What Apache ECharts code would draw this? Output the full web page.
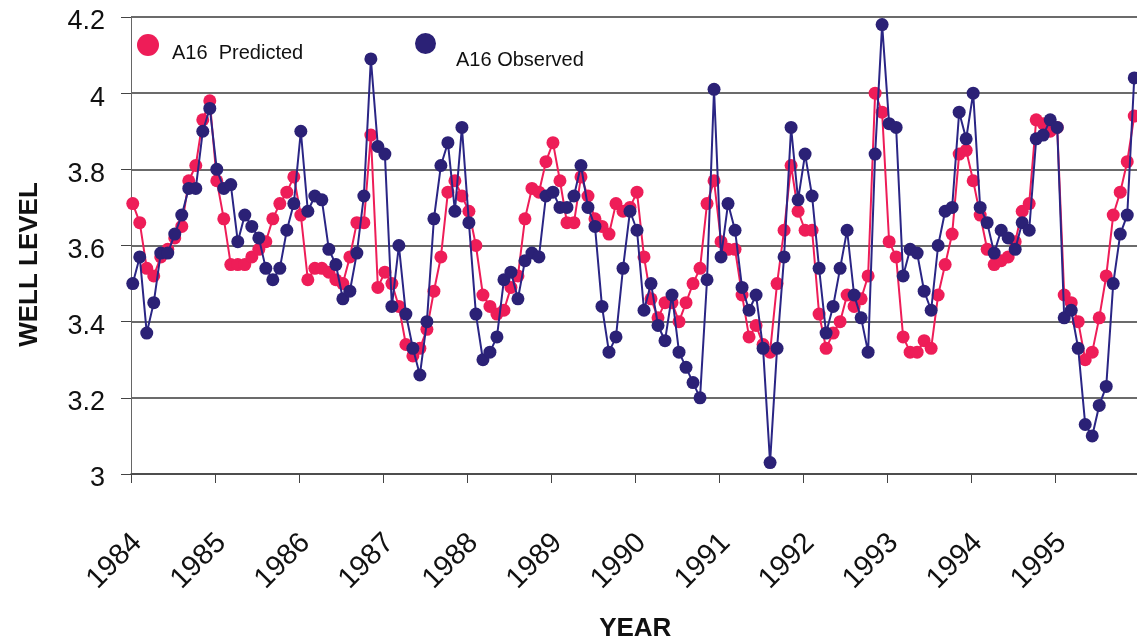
<!DOCTYPE html>
<html>
<head>
<meta charset="utf-8">
<title>A16 Well Level</title>
<script src="https://cdn.jsdelivr.net/npm/echarts@6/dist/echarts.min.js"></script>
<style>
  html, body { margin: 0; padding: 0; background: #ffffff; }
  #chart { width: 1137px; height: 643px; }
</style>
</head>
<body>
<div id="chart"></div>
<script>
// Monthly series, January 1984 through December 1995
const startYear = 1984;
const yearTicks = [1984, 1985, 1986, 1987, 1988, 1989, 1990, 1991, 1992, 1993, 1994, 1995];
const levelTicks = [3, 3.2, 3.4, 3.6, 3.8, 4, 4.2];
const seriesNames = ['A16  Predicted', 'A16 Observed'];

const predicted = [
  3.71, 3.66, 3.54, 3.52, 3.57, 3.59, 3.62, 3.65, 3.77, 3.81, 3.93, 3.98,
  3.77, 3.67, 3.55, 3.55, 3.55, 3.57, 3.59, 3.61, 3.67, 3.71, 3.74, 3.78,
  3.68, 3.51, 3.54, 3.54, 3.53, 3.51, 3.50, 3.57, 3.66, 3.66, 3.89, 3.49,
  3.53, 3.50, 3.44, 3.34, 3.31, 3.33, 3.38, 3.48, 3.57, 3.74, 3.77, 3.73,
  3.69, 3.60, 3.47, 3.44, 3.42, 3.43, 3.49, 3.52, 3.67, 3.75, 3.74, 3.82,
  3.87, 3.77, 3.66, 3.66, 3.78, 3.73, 3.67, 3.65, 3.63, 3.71, 3.69, 3.70,
  3.74, 3.57, 3.46, 3.41, 3.45, 3.45, 3.40, 3.45, 3.50, 3.54, 3.71, 3.77,
  3.61, 3.59, 3.59, 3.47, 3.36, 3.39, 3.34, 3.32, 3.50, 3.64, 3.81, 3.69,
  3.64, 3.64, 3.42, 3.33, 3.37, 3.40, 3.47, 3.44, 3.46, 3.52, 4.00, 3.95,
  3.61, 3.57, 3.36, 3.32, 3.32, 3.35, 3.33, 3.47, 3.55, 3.63, 3.84, 3.85,
  3.77, 3.68, 3.59, 3.55, 3.56, 3.57, 3.61, 3.69, 3.71, 3.93, 3.92, 3.90,
  3.91, 3.47, 3.45, 3.40, 3.30, 3.32, 3.41, 3.52, 3.68, 3.74, 3.82, 3.94
];

const observed = [
  3.50, 3.57, 3.37, 3.45, 3.58, 3.58, 3.63, 3.68, 3.75, 3.75, 3.90, 3.96,
  3.80, 3.75, 3.76, 3.61, 3.68, 3.65, 3.62, 3.54, 3.51, 3.54, 3.64, 3.71,
  3.90, 3.69, 3.73, 3.72, 3.59, 3.55, 3.46, 3.48, 3.58, 3.73, 4.09, 3.86,
  3.84, 3.44, 3.60, 3.42, 3.33, 3.26, 3.40, 3.67, 3.81, 3.87, 3.69, 3.91,
  3.66, 3.42, 3.30, 3.32, 3.36, 3.51, 3.53, 3.46, 3.56, 3.58, 3.57, 3.73,
  3.74, 3.70, 3.70, 3.73, 3.81, 3.70, 3.65, 3.44, 3.32, 3.36, 3.54, 3.69,
  3.64, 3.43, 3.50, 3.39, 3.35, 3.47, 3.32, 3.28, 3.24, 3.20, 3.51, 4.01,
  3.57, 3.71, 3.64, 3.49, 3.43, 3.47, 3.33, 3.03, 3.33, 3.57, 3.91, 3.72,
  3.84, 3.73, 3.54, 3.37, 3.44, 3.54, 3.64, 3.47, 3.41, 3.32, 3.84, 4.18,
  3.92, 3.91, 3.52, 3.59, 3.58, 3.48, 3.43, 3.60, 3.69, 3.70, 3.95, 3.88,
  4.00, 3.70, 3.66, 3.58, 3.64, 3.62, 3.59, 3.66, 3.64, 3.88, 3.89, 3.93,
  3.91, 3.41, 3.43, 3.33, 3.13, 3.10, 3.18, 3.23, 3.50, 3.63, 3.68, 4.04
];

// Place each monthly reading a little after the start of its month
const monthOffset = 0.25;
function toPoints(values) {
  return values.map((v, i) => [startYear + (i + monthOffset) / 12, v]);
}

const FONT = '"Liberation Sans", Arial, Helvetica, sans-serif';
const RED = '#ee1d58';
const BLUE = '#2b2176';

const chart = echarts.init(document.getElementById('chart'), null, { renderer: 'canvas' });

// Legend entries sit with their text a little below the marker
function legendFor(name, left, top, size, pad) {
  return {
    data: [name],
    left: left, top: top,
    icon: 'circle', itemWidth: size, itemHeight: size,
    selectedMode: false,
    formatter: '{t|{name}}',
    textStyle: {
      rich: {
        t: { fontSize: 20, color: '#111', fontFamily: FONT, padding: pad }
      }
    }
  };
}

chart.setOption({
  backgroundColor: '#ffffff',
  animation: false,
  textStyle: { fontFamily: FONT },
  grid: {
    left: 131, top: 17, width: 1008.5, height: 457,
    containLabel: false,
    outerBoundsMode: 'none'
  },
  legend: [
    legendFor(seriesNames[0], 132, 29, 22, [16, 0, 0, 8]),
    legendFor(seriesNames[1], 410, 28, 21, [34, 0, 0, 15])
  ],
  xAxis: {
    type: 'value',
    min: 1984, max: 1996, interval: 1,
    name: 'YEAR',
    nameLocation: 'middle',
    nameGap: 142,
    nameTextStyle: { fontSize: 26, fontWeight: 'bold', color: '#111', fontFamily: FONT },
    axisLine: { show: true, onZero: false, lineStyle: { color: '#444', width: 1.5 } },
    axisTick: { show: true, length: 9, lineStyle: { color: '#444', width: 1 } },
    splitLine: { show: false },
    axisLabel: {
      rotate: 45,
      margin: 58,
      fontFamily: FONT,
      formatter: v => (yearTicks.indexOf(v) >= 0 ? '{y|' + v + '}' : ''),
      rich: {
        y: { fontSize: 29, color: '#111', fontFamily: FONT, padding: [18, 0, 0, 0] }
      }
    }
  },
  yAxis: {
    type: 'value',
    min: levelTicks[0], max: levelTicks[levelTicks.length - 1], interval: 0.2,
    name: 'WELL LEVEL',
    nameLocation: 'middle',
    nameGap: 88,
    nameTextStyle: { fontSize: 26, fontWeight: 'bold', color: '#111', fontFamily: FONT, padding: [0, 38, 0, 0] },
    axisLine: { show: true, lineStyle: { color: '#666', width: 1 } },
    axisTick: { show: true, length: 10, lineStyle: { color: '#444', width: 1 } },
    splitLine: { show: true, lineStyle: { color: '#3a3a3a', width: 1.6 } },
    axisLabel: {
      margin: 26,
      fontFamily: FONT,
      formatter: v => '{v|' + (Math.round(v * 10) / 10) + '}',
      rich: {
        v: { fontSize: 27, color: '#111', fontFamily: FONT, padding: [10, 0, 0, 0] }
      }
    }
  },
  series: [
    {
      name: seriesNames[0],
      type: 'line',
      data: toPoints(predicted),
      symbol: 'circle',
      symbolSize: 13,
      itemStyle: { color: RED },
      lineStyle: { color: RED, width: 2 },
      z: 2
    },
    {
      name: seriesNames[1],
      type: 'line',
      data: toPoints(observed),
      symbol: 'circle',
      symbolSize: 13,
      itemStyle: { color: BLUE },
      lineStyle: { color: '#2a2585', width: 2 },
      z: 3
    }
  ]
});
</script>
</body>
</html>
